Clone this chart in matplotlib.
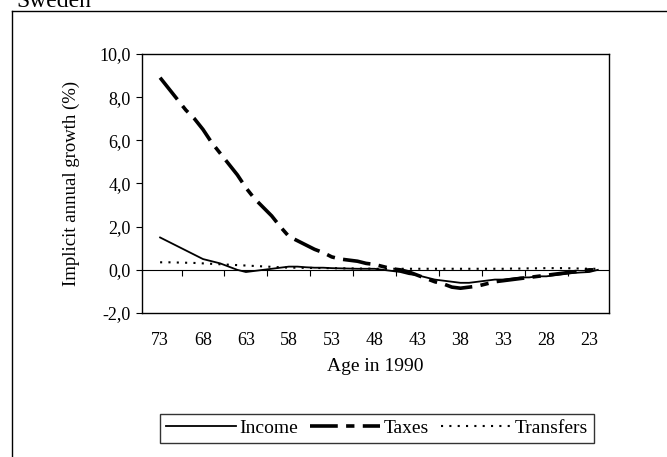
import numpy as np
import matplotlib.pyplot as plt
from matplotlib.lines import Line2D

plt.rcParams['font.family'] = ['Liberation Serif', 'DejaVu Serif']
plt.rcParams['lines.scale_dashes'] = False

# ages in 1990 (annual), oldest first
ages = list(range(73, 21, -1))

income = [1.5, 1.3, 1.1, 0.9, 0.7, 0.5, 0.4, 0.3, 0.15, 0.0,
          -0.1, -0.05, 0.0, 0.05, 0.1, 0.15, 0.15, 0.12, 0.1, 0.1,
          0.08, 0.07, 0.06, 0.05, 0.05, 0.05, 0.0, -0.05, -0.1, -0.2,
          -0.25, -0.35, -0.45, -0.5, -0.55, -0.6, -0.6, -0.55, -0.5, -0.45,
          -0.45, -0.4, -0.35, -0.35, -0.3, -0.3, -0.25, -0.2, -0.15, -0.12,
          -0.1, 0.0]

taxes = [8.9, 8.4, 7.9, 7.4, 7.0, 6.5, 5.9, 5.4, 4.9, 4.4,
         3.8, 3.3, 2.9, 2.5, 2.0, 1.55, 1.35, 1.15, 0.95, 0.8,
         0.6, 0.5, 0.45, 0.4, 0.3, 0.25, 0.15, 0.05, 0.0, -0.1,
         -0.25, -0.4, -0.55, -0.65, -0.8, -0.85, -0.8, -0.75, -0.65, -0.55,
         -0.5, -0.45, -0.4, -0.35, -0.3, -0.25, -0.2, -0.15, -0.1, -0.05,
         0.0, 0.0]

transfers = [0.35, 0.35, 0.34, 0.33, 0.32, 0.3, 0.28, 0.26, 0.24, 0.22,
             0.2, 0.18, 0.16, 0.14, 0.12, 0.1, 0.1, 0.09, 0.09, 0.08,
             0.08, 0.07, 0.07, 0.06, 0.06, 0.05, 0.05, 0.05, 0.05, 0.05,
             0.05, 0.05, 0.05, 0.05, 0.05, 0.05, 0.05, 0.05, 0.05, 0.05,
             0.05, 0.06, 0.06, 0.07, 0.07, 0.08, 0.08, 0.08, 0.07, 0.06,
             0.05, 0.05]

tick_ages = [73, 68, 63, 58, 53, 48, 43, 38, 33, 28, 23]
yticks = [-2, 0, 2, 4, 6, 8, 10]

fig = plt.figure(figsize=(6.67, 4.57), dpi=100)
ax = fig.add_axes([0.213, 0.315, 0.700, 0.567])

ax.axhline(0, color='black', lw=0.8)
ax.plot(ages, income, color='black', lw=1.3, label='Income')
ax.plot(ages, taxes, color='black', lw=2.6, dashes=(20, 6, 6, 6), label='Taxes')
ax.plot(ages, transfers, color='black', lw=1.5, dashes=(1.5, 4.5), label='Transfers')

# small tick marks on the zero line, between the labels
mid = [a - 2.5 for a in tick_ages[:-1]]
ax.plot(mid, [0] * len(mid), ls='none', marker=3, ms=4, color='black', mew=0.8)

ax.set_xlim(75.1, 20.7)
ax.set_ylim(-2, 10)
ax.set_xticks(tick_ages)
ax.set_xticklabels([str(a) for a in tick_ages])
ax.set_yticks(yticks)
ax.set_yticklabels([('%.1f' % v).replace('.', ',') for v in yticks])
ax.tick_params(axis='x', length=0, labelsize=13, pad=14)
ax.tick_params(axis='y', direction='out', length=4, width=0.8, labelsize=13, pad=4)
for s in ax.spines.values():
    s.set_linewidth(1.0)

ax.set_xlabel('Age in 1990', fontsize=14, labelpad=6)
ax.set_ylabel('Implicit annual growth (%)', fontsize=13.5, labelpad=14)

leg = fig.legend(loc='center', bbox_to_anchor=(0.565, 0.063), ncol=3, frameon=True,
                 fancybox=False, edgecolor='black', fontsize=14, handlelength=3.6,
                 handletextpad=0.2, columnspacing=0.6, borderpad=0.3)
leg.get_frame().set_linewidth(1.0)

# outer frame of the chart and cut-off title
fig.add_artist(Line2D([0.018, 0.018], [0.0, 0.975], color='black', lw=1.0))
fig.add_artist(Line2D([0.018, 1.0], [0.975, 0.975], color='black', lw=1.0))
fig.text(0.024, 0.984, 'Sweden', fontsize=17, va='baseline', ha='left')

fig.savefig('out.png', dpi=100)
